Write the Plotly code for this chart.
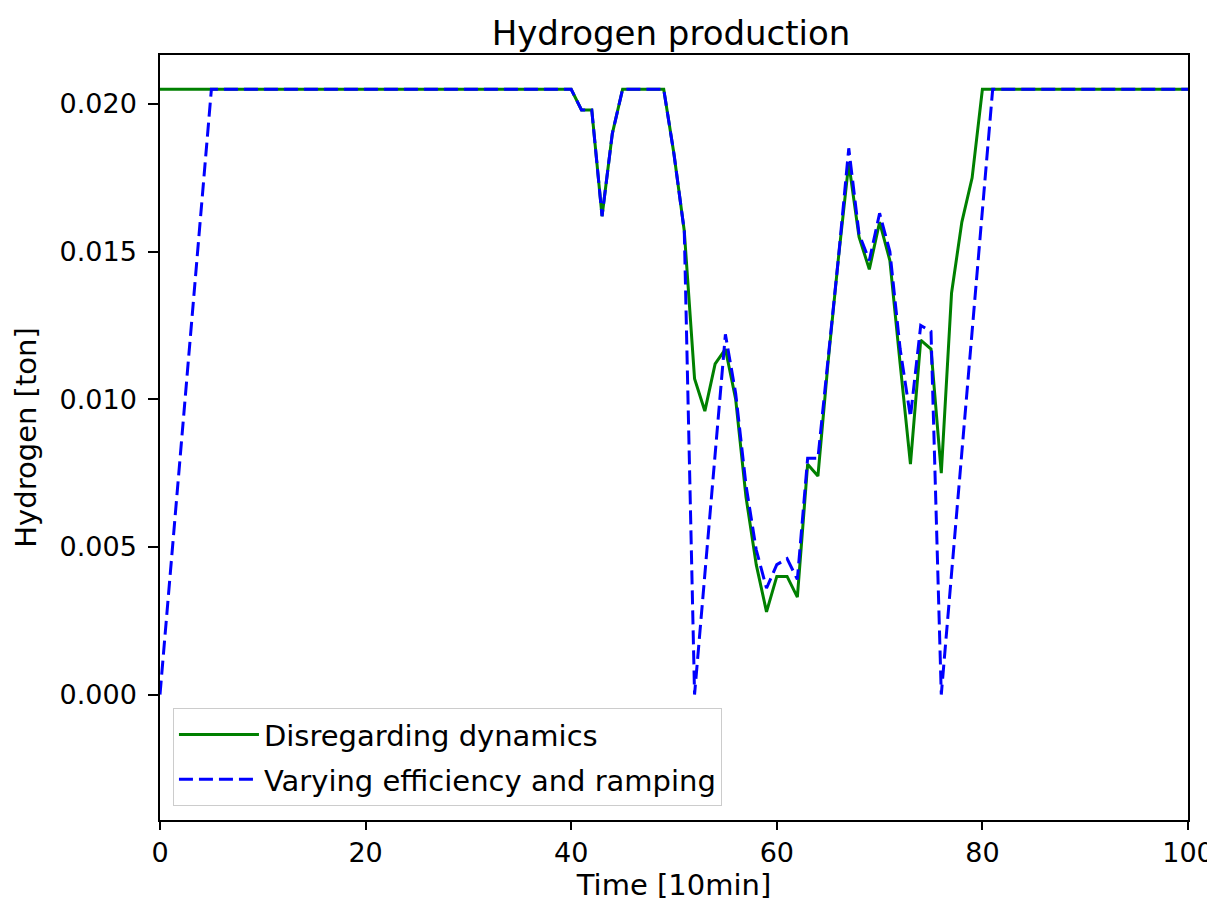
import plotly.graph_objects as go

# time steps (10 min each)
time = list(range(0, 101))

full = 0.0205

# Disregarding dynamics
h2_static = (
    [full] * 41
    + [0.0198, 0.0198, 0.0162, 0.0190]
    + [full] * 5
    + [0.0183, 0.0157, 0.0107, 0.0096, 0.0112, 0.0117, 0.0100, 0.0067, 0.0044, 0.0028,
       0.0040, 0.0040, 0.0033, 0.0078, 0.0074, 0.0113, 0.0148, 0.0180, 0.0155, 0.0144,
       0.0160, 0.0147, 0.0112, 0.0078, 0.0120, 0.0117, 0.0075, 0.0136, 0.0160, 0.0175]
    + [full] * 21
)

# Varying efficiency and ramping
h2_dynamic = (
    [0.0, 0.0041, 0.0082, 0.0123, 0.0164]
    + [full] * 36
    + [0.0198, 0.0198, 0.0162, 0.0190]
    + [full] * 5
    + [0.0183, 0.0157, 0.0, 0.0041, 0.0082, 0.0122, 0.0102, 0.0071, 0.0049, 0.0036,
       0.0044, 0.0046, 0.0039, 0.0080, 0.0080, 0.0113, 0.0148, 0.0185, 0.0156, 0.0147,
       0.0163, 0.0150, 0.0117, 0.0094, 0.0125, 0.0123, 0.0, 0.0041, 0.0082, 0.0123,
       0.0164]
    + [full] * 20
)

fig = go.Figure()
fig.add_trace(go.Scatter(x=time, y=h2_static, mode="lines", name="Disregarding dynamics",
                         legendgroup="a", line=dict(color="green", width=3)))
fig.add_trace(go.Scatter(x=time, y=h2_dynamic, mode="lines", name="Varying efficiency and ramping",
                         legendgroup="b", line=dict(color="blue", width=3, dash="14px,6px")))

tick_font = dict(family="DejaVu Sans", size=27, color="black")
label_font = dict(family="DejaVu Sans", size=29, color="black")

# page body adds 8px, so margins are shifted to compensate
fig.update_layout(
    width=1215, height=910,
    margin=dict(l=152, r=35, t=47, b=98),
    plot_bgcolor="white", paper_bgcolor="white",
    font=tick_font,
    title=dict(text="Hydrogen production", x=0.5457, xanchor="center", y=0.9725, yanchor="middle",
               font=dict(family="DejaVu Sans", size=34, color="black")),
    legend=dict(x=0.0126, y=0.018, xanchor="left", yanchor="bottom",
                bgcolor="rgba(255,255,255,0.8)", bordercolor="#cccccc", borderwidth=1,
                font=dict(family="DejaVu Sans", size=29, color="black"),
                tracegroupgap=4, itemwidth=80),
    showlegend=True,
)
fig.update_xaxes(range=[0, 100], tickvals=[0, 20, 40, 60, 80, 100], showgrid=False, zeroline=False,
                 showline=True, linecolor="black", linewidth=1.5, mirror=True, automargin=False,
                 ticks="outside", ticklen=8, tickwidth=1.5, tickcolor="black", tickfont=tick_font,
                 title=dict(text="Time [10min]", standoff=2, font=label_font))
fig.update_yaxes(range=[-0.00425, 0.02166], tickvals=[0, 0.005, 0.01, 0.015, 0.02], tickformat=".3f",
                 showgrid=False, zeroline=False,
                 showline=True, linecolor="black", linewidth=1.5, mirror=True, automargin=False,
                 ticks="outside", ticklen=10, tickwidth=1.5, tickcolor="black", tickfont=tick_font,
                 ticklabelstandoff=6,
                 title=dict(text="Hydrogen [ton]", standoff=14, font=label_font))

fig.write_html("out.html")
